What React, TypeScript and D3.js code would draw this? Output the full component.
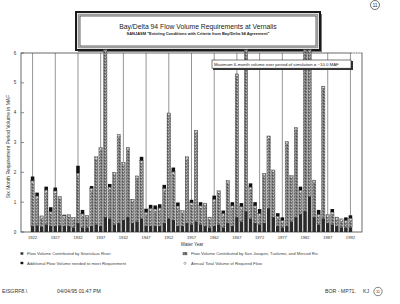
import React from "react";
import * as d3 from "d3";

// water years on the x axis
const years = d3.range(1922, 1993);
const tickYears = [1922, 1927, 1932, 1937, 1942, 1947, 1952, 1957, 1962, 1967, 1972, 1977, 1982, 1987, 1992];
const yTicks = [0, 1, 2, 3, 4, 5, 6];

// MAF (bars above 6 are clipped at the frame)
const stanislaus = [0.2, 0.22, 0.18, 0.25, 0.2, 0.2, 0.22, 0.2, 0.2, 0.15, 0.3, 0.15, 0.15, 0.2, 0.25, 0.2, 0.5, 0.45, 0.25, 0.3,
    0.4, 0.5, 0.3, 0.35, 0.45, 0.2, 0.2, 0.2, 0.2, 0.3, 0.45, 0.4, 0.2, 0.2, 0.3, 0.25, 0.35, 0.25, 0.2, 0.15,
    0.2, 0.25, 0.15, 0.3, 0.2, 0.5, 0.35, 0.7, 0.45, 0.3, 0.25, 0.3, 0.8, 0.5, 0.2, 0.15, 0.2, 0.35, 0.5, 0.6,
    0.7, 1.2, 0.5, 0.25, 0.45, 0.3, 0.25, 0.2, 0.15, 0.15, 0.15];
const tributaries = [1.52, 0.99, 0.36, 1.16, 0.48, 1.18, 0.97, 0.35, 0.38, 0.34, 1.67, 0.46, 0.41, 1.26, 2.27, 2.63, 6.1, 1.06, 1.75, 2.97,
    1.94, 2.34, 0.8, 1.53, 1.94, 0.46, 0.59, 0.57, 0.61, 1.16, 3.54, 1.62, 0.67, 0.52, 2.22, 0.73, 3.06, 0.63, 0.77, 0.35,
    0.9, 1.13, 0.47, 1.43, 0.68, 4.8, 0.5, 5.9, 1.06, 0.58, 0.37, 1.67, 2.42, 1.58, 0.33, 0.24, 2.84, 1.54, 3.0, 0.8,
    5.9, 5.4, 1.24, 0.34, 4.44, 0.28, 0.42, 0.3, 0.29, 0.24, 0.31];
const additional = [0.14, 0.11, 0, 0.11, 0.15, 0.11, 0, 0.03, 0, 0, 0.25, 0.13, 0, 0.08, 0, 0, 0, 0.1, 0, 0,
    0, 0, 0, 0, 0.13, 0.12, 0.12, 0.12, 0.12, 0.12, 0, 0.14, 0.12, 0, 0, 0.1, 0, 0.12, 0, 0,
    0.12, 0, 0.1, 0, 0.12, 0, 0.12, 0, 0.12, 0.12, 0.15, 0, 0, 0, 0.1, 0.1, 0, 0, 0, 0.12,
    0, 0, 0, 0.15, 0, 0, 0.1, 0, 0, 0.1, 0.1];

const font = "Arial, 'Liberation Sans', sans-serif";

export default function App() {
    const x = d3.scaleBand<number>().domain(years).range([30.3, 352.7]).paddingInner(0.22).paddingOuter(0.11);
    const y = d3.scaleLinear().domain([0, 6]).range([232, 53]);
    const top = y(6.12);
    const yc = (v: number) => Math.max(top, y(v));
    const bw = x.bandwidth();

    const rows = years.map((yr, i) => {
        const s = stanislaus[i], t = tributaries[i], a = additional[i];
        return { yr, s, t, a, x0: x(yr)! };
    });

    return (
        <svg width={400} height={304} style={{ position: "absolute", left: 0, top: 0, background: "#fff" }} fontFamily={font}>
            <defs>
                <pattern id="speck" width="3" height="3" patternUnits="userSpaceOnUse">
                    <rect width="3" height="3" fill="#7c7c7c" />
                    <rect x="0" y="0" width="1" height="1" fill="#c0c0c0" />
                    <rect x="2" y="1" width="1" height="1" fill="#4c4c4c" />
                    <rect x="1" y="2" width="1" height="1" fill="#a0a0a0" />
                </pattern>
            </defs>

            {/* circled page number */}
            <circle cx={375} cy={5} r={4.5} fill="none" stroke="#333" strokeWidth={0.7} />
            <text x={375} y={7} fontSize={5} textAnchor="middle" fill="#333">11</text>

            {/* title box */}
            <rect x={78} y={14} width={244} height={38} fill="#777" />
            <rect x={76} y={12} width={244} height={38} fill="#fff" stroke="#1a1a1a" strokeWidth={2} />
            <rect x={78.5} y={14.5} width={239} height={33} fill="none" stroke="#9a9a9a" strokeWidth={1.6} />
            <rect x={80} y={16} width={236} height={30} fill="#fff" stroke="#222" strokeWidth={0.7} />
            <text x={198} y={29} fontSize={6.8} textAnchor="middle" fill="#222">Bay/Delta 94 Flow Volume Requirements at Vernalis</text>
            <text x={198} y={35} fontSize={4} fontWeight="bold" textAnchor="middle" fill="#222">SANJASM "Existing Conditions with Criteria from Bay/Delta 94 Agreement"</text>

            {/* vertical gridlines */}
            {tickYears.map(t => (
                <line key={t} x1={x(t)! + bw / 2} x2={x(t)! + bw / 2} y1={y(0)} y2={y(6)} stroke="#8a8a8a" strokeWidth={0.9} />
            ))}

            {/* frame */}
            <rect x={21} y={y(6)} width={341} height={y(0) - y(6)} fill="none" stroke="#444" strokeWidth={0.8} />
            <line x1={352} x2={362} y1={y(6)} y2={y(6)} stroke="#fff" strokeWidth={1} strokeDasharray="1.5 1" />

            {/* y axis */}
            {yTicks.map(v => (
                <g key={v}>
                    <line x1={21} x2={24} y1={y(v)} y2={y(v)} stroke="#444" strokeWidth={0.6} />
                    <text x={15} y={y(v) + 1.6} fontSize={4.5} textAnchor="middle" fill="#333">{v}</text>
                </g>
            ))}
            <text transform={`translate(10,${(y(0) + y(6)) / 2 + 4}) rotate(-90)`} fontSize={5} textAnchor="middle" fill="#333">
                Six Month Requirement Period Volume in MAF
            </text>

            {/* stacked bars */}
            {rows.map(r => {
                const y1 = yc(r.s), y2 = yc(r.s + r.t), y3 = yc(r.s + r.t + r.a);
                return (
                    <g key={r.yr}>
                        <rect x={r.x0} y={y2} width={bw} height={y1 - y2} fill="url(#speck)" stroke="#333" strokeWidth={0.3} />
                        <rect x={r.x0} y={y1} width={bw} height={y(0) - y1} fill="#2a2a2a" />
                        {r.a > 0 && <rect x={r.x0} y={y3} width={bw} height={y2 - y3} fill="#111" />}
                        {y2 > top + 2 && <circle cx={r.x0 + bw / 2} cy={y2 + 1.4} r={0.85} fill="#fff" stroke="#555" strokeWidth={0.2} />}
                    </g>
                );
            })}

            {/* x labels */}
            {tickYears.map(t => (
                <text key={t} x={x(t)! + bw / 2} y={239.3} fontSize={4.1} textAnchor="middle" fill="#333">{t}</text>
            ))}
            <text x={192} y={245.8} fontSize={4.6} textAnchor="middle" fill="#333">Water Year</text>

            {/* note box */}
            <rect x={213} y={61} width={140} height={9} fill="#333" />
            <rect x={212} y={60} width={139} height={8.2} fill="#fff" stroke="#222" strokeWidth={0.6} />
            <text x={214} y={65.8} fontSize={4.3} fill="#222">Maximum 6-month volume over period of simulation = ~10.0 MAF</text>

            {/* legend */}
            <rect x={20.5} y={252.3} width={2.8} height={2.4} fill="#2a2a2a" />
            <text x={27} y={255} fontSize={4.2} fill="#444">Flow Volume Contributed by Stanislaus River</text>
            <rect x={20.5} y={261.8} width={2.8} height={2.4} fill="#111" />
            <text x={27} y={264.5} fontSize={4.2} fill="#444">Additional Flow Volume needed to meet Requirement</text>
            <rect x={183} y={252.3} width={4} height={2.6} fill="url(#speck)" stroke="#333" strokeWidth={0.4} />
            <text x={191} y={255} fontSize={4.2} fill="#444">Flow Volume Contributed by San Joaquin, Tuolume, and Merced Riv</text>
            <circle cx={185} cy={263.3} r={1.1} fill="#fff" stroke="#444" strokeWidth={0.4} />
            <text x={191} y={264.5} fontSize={4.2} fill="#444">Annual Total Volume of Required Flow</text>

            {/* footer */}
            <text x={2} y={293} fontSize={5.2} fill="#333">EISGRF8.\</text>
            <text x={57} y={293} fontSize={5.2} fill="#333">04/04/95  01:47 PM</text>
            <text x={325} y={293} fontSize={5.2} fill="#333">BOR - MP71.</text>
            <text x={363} y={293} fontSize={5.2} fill="#333">KJ</text>
            <circle cx={378} cy={291.5} r={4.2} fill="none" stroke="#333" strokeWidth={0.6} />
            <text x={378} y={293} fontSize={4} textAnchor="middle" fill="#333">11</text>
        </svg>
    );
}
